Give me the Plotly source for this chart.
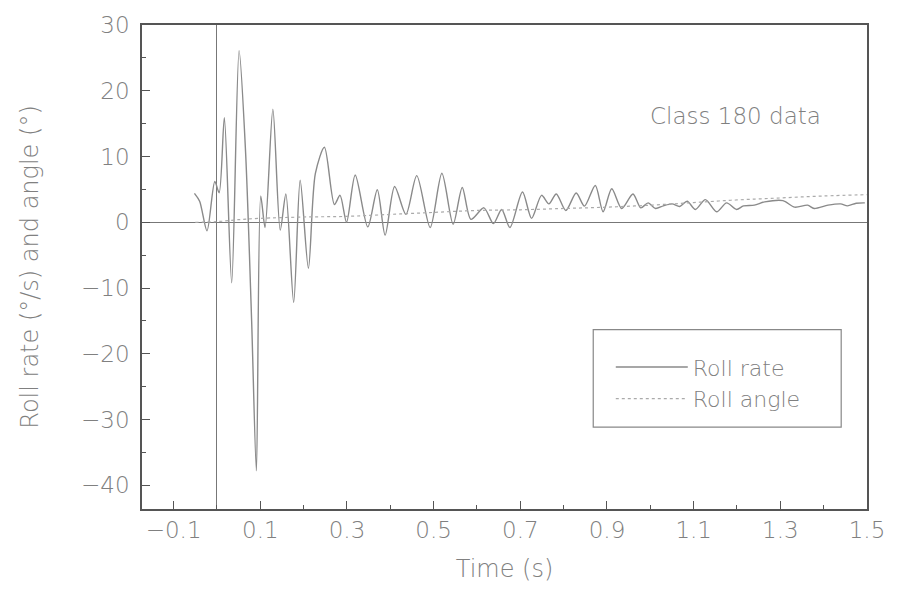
import plotly.graph_objects as go

# Roll rate (deg/s)
time_rate = [-0.052, -0.040, -0.023, -0.005, 0.005, 0.017, 0.034, 0.051, 0.066, 0.080,
             0.091, 0.101, 0.111, 0.129, 0.146, 0.159, 0.177, 0.192, 0.211, 0.227,
             0.248, 0.271, 0.284, 0.299, 0.319, 0.348, 0.370, 0.388, 0.410, 0.436,
             0.461, 0.492, 0.519, 0.545, 0.566, 0.586, 0.616, 0.638, 0.657, 0.676,
             0.705, 0.726, 0.749, 0.766, 0.783, 0.805, 0.829, 0.848, 0.873, 0.891,
             0.911, 0.934, 0.960, 0.978, 0.995, 1.012, 1.030, 1.050, 1.068, 1.085,
             1.104, 1.127, 1.153, 1.176, 1.199, 1.215, 1.240, 1.264, 1.306, 1.333,
             1.363, 1.378, 1.410, 1.439, 1.455, 1.475, 1.495]
roll_rate = [4.4, 3.2, -1.3, 6.2, 4.5, 15.9, -9.2, 26.1, 10.7, -15.0,
             -37.8, 4.0, -0.8, 17.2, -1.2, 4.3, -12.2, 6.4, -7.0, 7.4,
             11.4, 2.7, 4.1, 0.0, 7.2, -0.7, 4.95, -1.95, 5.45, 1.2,
             7.1, -0.8, 7.45, -0.3, 5.3, 0.45, 2.2, -0.2, 1.95, -0.8,
             4.6, 0.6, 4.1, 2.8, 4.3, 1.8, 4.45, 2.45, 5.6, 1.6,
             5.1, 2.1, 4.3, 2.2, 2.95, 2.1, 2.5, 2.8, 2.4, 3.2,
             1.95, 3.45, 1.6, 2.95, 1.95, 2.5, 2.6, 3.1, 3.3, 2.3,
             2.6, 2.1, 2.6, 2.8, 2.5, 2.9, 2.95]

# Roll angle (deg)
time_angle = [-0.05, 0.0, 0.05, 0.1, 0.2, 0.3, 0.4, 0.5, 0.6, 0.7, 0.8, 0.9,
              1.0, 1.1, 1.2, 1.3, 1.4, 1.5]
roll_angle = [0.0, 0.1, 0.4, 0.6, 0.8, 0.9, 1.2, 1.5, 1.8, 1.9, 2.1, 2.3,
              2.6, 3.0, 3.4, 3.7, 4.0, 4.2]

x_ticks = [-0.1, 0.1, 0.3, 0.5, 0.7, 0.9, 1.1, 1.3, 1.5]
y_ticks = [-40, -30, -20, -10, 0, 10, 20, 30]

FONT = "DejaVu Sans"
TXT = "#808080"
AX = "#555555"

fig = go.Figure()
fig.add_trace(go.Scatter(x=time_rate, y=roll_rate, mode="lines", name="Roll rate",
                         line=dict(color="#8a8a8a", width=1.4, shape="spline", smoothing=0.8)))
fig.add_trace(go.Scatter(x=time_angle, y=roll_angle, mode="lines", name="Roll angle",
                         line=dict(color="#aaaaaa", width=1.2, dash="dot", shape="spline")))

fig.update_layout(
    width=897, height=594,
    margin=dict(l=142, r=24, t=18, b=85),
    paper_bgcolor="white", plot_bgcolor="white",
    font=dict(family=FONT, size=20, color=TXT, weight=200),
    showlegend=True,
    legend=dict(x=0.6466, y=0.26, xanchor="left", yanchor="middle",
                bgcolor="rgba(0,0,0,0)", borderwidth=0,
                font=dict(size=22, color=TXT, family=FONT, weight=200),
                itemwidth=72, tracegroupgap=0),
    shapes=[dict(type="rect", xref="paper", yref="paper",
                 x0=0.6224, x1=0.9644, y0=0.169, y1=0.3707,
                 line=dict(color="#888888", width=1.2))],
    annotations=[dict(text="Class 180 data", xref="paper", yref="paper",
                      x=0.818, y=0.812, xanchor="center", yanchor="middle",
                      showarrow=False,
                      font=dict(size=23, color=TXT, family=FONT, weight=200))],
)
fig.update_xaxes(
    range=[-0.173, 1.5], tickvals=x_ticks,
    ticktext=[("\u2212" if v < 0 else "") + f"{abs(v):.1f}" for v in x_ticks],
    tickfont=dict(size=23),
    ticks="inside", ticklen=8, tickcolor=AX,
    minor=dict(dtick=0.1, tick0=0.0, ticks="inside", ticklen=4, tickcolor=AX),
    showline=True, linecolor=AX, linewidth=1.5, mirror=True,
    showgrid=False, zeroline=True, zerolinecolor="#777777", zerolinewidth=1,
    title=dict(text="Time (s)", standoff=18, font=dict(size=24)),
)
fig.update_yaxes(
    range=[-43.6, 30], tickvals=y_ticks,
    tickfont=dict(size=23), ticklabelstandoff=6,
    ticks="inside", ticklen=8, tickcolor=AX,
    minor=dict(dtick=5, tick0=0, ticks="inside", ticklen=4, tickcolor=AX),
    showline=True, linecolor=AX, linewidth=1.5, mirror=True,
    showgrid=False, zeroline=True, zerolinecolor="#777777", zerolinewidth=1,
    title=dict(text="Roll rate (°/s) and angle (°)", standoff=36, font=dict(size=24)),
)

fig.write_html("out.html", post_script="document.body.style.margin='0';",
               config={"displayModeBar": False})
